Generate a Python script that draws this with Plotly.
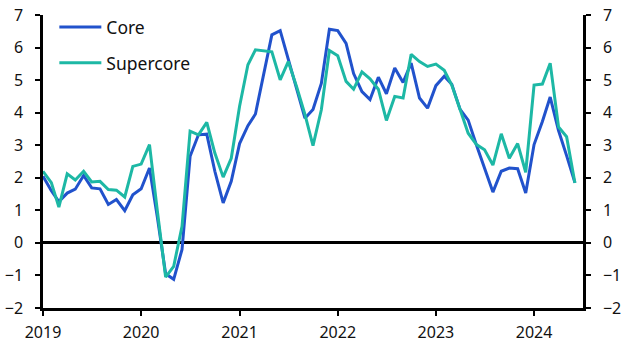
import pandas as pd
import plotly.graph_objects as go

dates = pd.date_range("2019-01-01", periods=66, freq="MS")

core = [2.05, 1.6, 1.27, 1.53, 1.65, 2.07, 1.69, 1.66, 1.18, 1.33, 0.99, 1.48,
        1.66, 2.3, 0.8, -0.95, -1.12, -0.2, 2.66, 3.32, 3.34, 2.2, 1.23, 1.89,
        3.05, 3.6, 3.96, 5.2, 6.39, 6.52, 5.62, 4.72, 3.83, 4.1, 4.9, 6.56,
        6.52, 6.13, 5.2, 4.65, 4.4, 5.09, 4.58, 5.37, 4.93, 5.52, 4.45, 4.14,
        4.83, 5.12, 4.87, 4.1, 3.77, 3.0, 2.3, 1.56, 2.2, 2.3, 2.28, 1.53,
        3.02, 3.73, 4.48, 3.45, 2.68, 1.85]

supercore = [2.2, 1.85, 1.1, 2.12, 1.93, 2.2, 1.87, 1.89, 1.64, 1.62, 1.41, 2.35,
             2.42, 3.02, 1.0, -1.05, -0.72, 0.51, 3.43, 3.32, 3.7, 2.76, 2.02, 2.6,
             4.2, 5.47, 5.93, 5.91, 5.87, 5.01, 5.57, 4.8, 3.95, 2.99, 4.09, 5.91,
             5.75, 4.96, 4.72, 5.25, 5.04, 4.72, 3.76, 4.5, 4.45, 5.79, 5.57, 5.42,
             5.49, 5.3, 4.85, 4.1, 3.37, 3.02, 2.86, 2.39, 3.35, 2.6, 3.05, 2.17,
             4.85, 4.88, 5.52, 3.56, 3.26, 1.84]

series_names = ["Core", "Supercore"]
colors = ["#2152CC", "#1DB8A5"]
y_ticks = list(range(-2, 8))
x_ticks = pd.date_range("2019-01-01", "2024-01-01", freq="YS")
x_labels = [str(d.year) for d in x_ticks]

FONT = "Noto Sans"

fig = go.Figure()
for name, vals, col in zip(series_names, [core, supercore], colors):
    fig.add_trace(go.Scatter(x=dates, y=vals, mode="lines", name=name,
                             legendgroup=name,
                             line=dict(color=col, width=3)))
# invisible trace to activate right axis
fig.add_trace(go.Scatter(x=dates, y=core, mode="lines", yaxis="y2",
                         line=dict(width=0), showlegend=False, hoverinfo="skip",
                         opacity=0))

axis_common = dict(range=[-2, 7], tickvals=y_ticks, showgrid=False,
                   ticks="outside", ticklen=5, tickwidth=2, tickcolor="black",
                   showline=True, linecolor="black", linewidth=2.5,
                   tickfont=dict(family=FONT, size=16, color="#111"),
                   ticklabelstandoff=9, automargin=False,
                   ticklabeloverflow="allow")

fig.update_layout(
    width=629, height=363,
    margin=dict(l=43, r=46, t=15, b=55, autoexpand=False),
    paper_bgcolor="white", plot_bgcolor="white",
    font=dict(family=FONT, size=16, color="#111"),
    xaxis=dict(range=[pd.Timestamp("2019-01-01"), pd.Timestamp("2024-07-01")],
               tickvals=x_ticks, ticktext=x_labels, showgrid=False,
               ticks="outside", ticklen=5, tickwidth=2, tickcolor="black",
               showline=True, linecolor="black", linewidth=2.5,
               tickfont=dict(family=FONT, size=16, color="#111"),
               ticklabelstandoff=3, zeroline=False, automargin=False,
               ticklabeloverflow="allow"),
    yaxis=dict(**axis_common, zeroline=True, zerolinecolor="black", zerolinewidth=2.5),
    yaxis2=dict(**axis_common, overlaying="y", side="right", zeroline=False),
    legend=dict(x=0.021, y=1.02, xanchor="left", yanchor="top",
                bgcolor="rgba(0,0,0,0)", tracegroupgap=10, itemwidth=42,
                font=dict(family=FONT, size=17.5, color="#111")),
    showlegend=True,
)

fig.write_html("out.html", config={"displayModeBar": False},
               post_script="document.body.style.margin='0';document.body.style.overflow='hidden';")
